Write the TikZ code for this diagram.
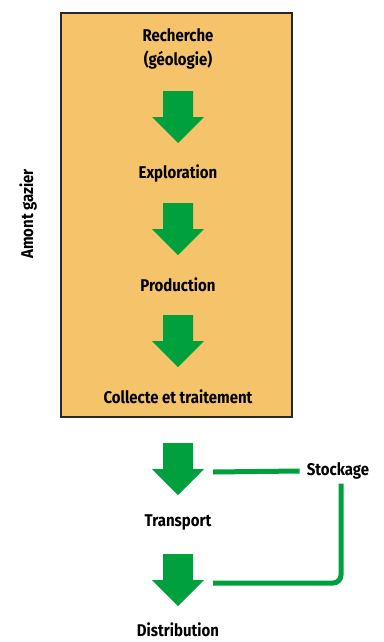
\documentclass[tikz,border=0pt]{standalone}
\usepackage{fontspec}
\setmainfont{Fira Sans}[FakeStretch=0.88]
\usetikzlibrary{positioning}
\definecolor{amontorange}{RGB}{245, 195, 106}
\definecolor{flowgreen}{RGB}{0, 160, 60}
\definecolor{boxdark}{RGB}{40, 40, 40}

\tikzset{
    stage/.style={font=\fontsize{17}{24}\selectfont\bfseries, align=center, inner sep=1pt},
    link/.style={flowgreen, line width=5pt, rounded corners=8pt}
}

\begin{document}
\begin{tikzpicture}[x=1pt, y=1pt]
    \useasboundingbox (0, 0) rectangle (383, -642);

    % Upstream box
    \draw[fill=amontorange, line width=1.5pt, draw=boxdark]
        (61, -13) rectangle (292, -417);
    \node[stage, rotate=90] (amont) at (28, -214) {Amont gazier};

    % Stage labels
    \node[stage] (recherche) at (178, -49) {Recherche\\(géologie)};
    \node[stage] (exploration) at (178, -173) {Exploration};
    \node[stage] (production) at (178, -285) {Production};
    \node[stage] (collecte) at (178, -397) {Collecte et traitement};
    \node[stage] (transport) at (178, -522) {Transport};
    \node[stage] (distribution) at (178, -630) {Distribution};
    \node[stage] (stockage) at (338, -471) {Stockage};

    % Block arrows
    \foreach \y in {91, 203, 315, 443, 554} {
        \fill[flowgreen] (163, -\y) -- (193, -\y) -- (193, -\y-26) -- (204, -\y-26)
            -- (178, -\y-52) -- (152, -\y-26) -- (163, -\y-26) -- cycle;
    }

    % Storage links
    \coordinate (intake) at (213, -472);
    \coordinate (outlet) at (213, -583);
    \draw[link] (intake) -- ([xshift=-6pt]stockage.west);
    \draw[link] ([xshift=3pt, yshift=-3pt]stockage.south) |- (outlet);
\end{tikzpicture}
\end{document}
